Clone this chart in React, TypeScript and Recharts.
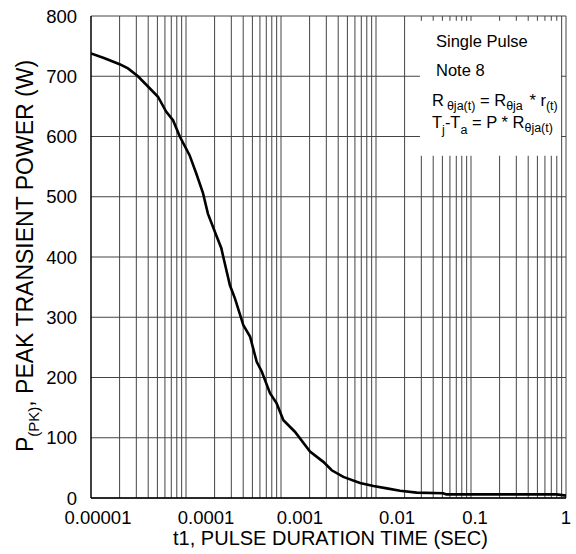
import React from 'react';
import {
  LineChart,
  Line,
  XAxis,
  YAxis,
  CartesianGrid,
  ReferenceLine,
  Customized,
  Label,
} from 'recharts';

// ---- data ----
const pulseTimes = [
  1.0e-5, 1.39e-5, 2.0e-5, 2.45e-5, 3.12e-5, 3.98e-5, 5.07e-5, 6.2e-5, 7.3e-5, 8.6e-5,
  1.09e-4, 1.28e-4, 1.51e-4, 1.7e-4, 2.08e-4, 2.35e-4, 2.47e-4, 2.9e-4, 3.28e-4, 4.01e-4,
  4.72e-4, 5.55e-4, 6.27e-4, 7.66e-4, 9.0e-4, 1.06e-3, 1.4e-3, 2.02e-3, 2.79e-3, 3.42e-3,
  4.53e-3, 6.79e-3, 9.4e-3, 1.3e-2, 1.79e-2, 2.68e-2, 5.1e-2, 5.5e-2, 0.8, 1.0,
];
const peakPower = [
  738, 730, 720, 713, 700, 683, 666, 641, 627, 600,
  569, 539, 506, 472, 436, 415, 400, 353, 331, 287,
  268, 226, 210, 174, 157, 129, 110, 77, 60, 46,
  35, 25, 20, 16, 12, 9, 8, 6, 6, 4,
];

const xTickValues = [0.00001, 0.0001, 0.001, 0.01, 0.1, 1];
const xTickLabels = ['0.00001', '0.0001', '0.001', '0.01', '0.1', '1'];
const yTickValues = [0, 100, 200, 300, 400, 500, 600, 700, 800];

// vertical grid values (1..9 per decade)
const xGridValues = [
  2e-5, 3e-5, 4e-5, 5e-5, 6e-5, 7e-5, 8e-5, 9e-5, 1e-4,
  2e-4, 3e-4, 4e-4, 5e-4, 6e-4, 7e-4, 8e-4, 9e-4, 1e-3,
  2e-3, 3e-3, 4e-3, 5e-3, 6e-3, 7e-3, 8e-3, 9e-3, 1e-2,
  2e-2, 3e-2, 4e-2, 5e-2, 6e-2, 7e-2, 8e-2, 9e-2, 1e-1,
  2e-1, 3e-1, 4e-1, 5e-1, 6e-1, 7e-1, 8e-1, 9e-1, 1,
];

// note box extent, in data units (x: time, y: power)
const noteBoxT = [0.029, 0.886];
const noteBoxP = [568, 792];

const chartData = pulseTimes.map((t, i) => ({ t, p: peakPower[i] }));

// ---- styles ----
const FONT = '"Liberation Sans", Arial, sans-serif';
const GRID = '#444444';
const xLabelShift = [7, 20, 19, 21, 4, 0];

const XTick = (props: any) => {
  const { x, y, index } = props;
  return (
    <text
      x={x + (xLabelShift[index] || 0)}
      y={y}
      dy="0.71em"
      textAnchor="middle"
      fontFamily={FONT}
      fontSize={18.5}
      fill="#000"
    >
      {xTickLabels[index]}
    </text>
  );
};

const YTitle = (props: any) => {
  const { viewBox } = props;
  const cy = viewBox.y + viewBox.height / 2 - 1;
  const x = 33;
  return (
    <text
      x={x}
      y={cy}
      transform={`rotate(-90 ${x} ${cy})`}
      textAnchor="middle"
      fontFamily={FONT}
      fontSize={23}
      fill="#000"
    >
      <tspan>P</tspan>
      <tspan fontSize={15} dy={6}>(PK)</tspan>
      <tspan dy={-6}>, PEAK TRANSIENT POWER (W)</tspan>
    </text>
  );
};

const XTitle = (props: any) => {
  const { viewBox } = props;
  const cx = viewBox.x + viewBox.width / 2 + 2;
  return (
    <text x={cx} y={545} textAnchor="middle" fontFamily={FONT} fontSize={20} fill="#000">
      t1, PULSE DURATION TIME (SEC)
    </text>
  );
};

const NoteBox = () => (
  <g fontFamily={FONT} fill="#000">
    <rect x={420} y={21} width={141} height={135} fill="#fff" stroke="none" />
    <text x={436} y={47} fontSize={16.5}>Single Pulse</text>
    <text x={436} y={76} fontSize={16.5}>Note 8</text>
    <text x={432} y={106} fontSize={16.5}>
      <tspan>R</tspan>
      <tspan fontSize={12.5} dx={3} dy={4}>θja(t)</tspan>
      <tspan dy={-4}> = R</tspan>
      <tspan fontSize={12.5} dy={4}>θja</tspan>
      <tspan dy={-4} dx={2}> * r</tspan>
      <tspan fontSize={12.5} dy={4}>(t)</tspan>
    </text>
    <text x={432} y={128} fontSize={16.5}>
      <tspan>T</tspan>
      <tspan fontSize={12.5} dy={6}>j</tspan>
      <tspan dy={-6}>-T</tspan>
      <tspan fontSize={12.5} dy={6}>a</tspan>
      <tspan dy={-6}> = P * R</tspan>
      <tspan fontSize={12.5} dy={4}>θja(t)</tspan>
    </text>
  </g>
);

const insideBox = (v: number) => v > noteBoxT[0] && v < noteBoxT[1];

export default function App() {
  return (
    <div style={{ position: 'absolute', left: 0, top: 0, width: 576, height: 554, background: '#fff' }}>
      <LineChart
        width={576}
        height={554}
        data={chartData}
        margin={{ top: 16, right: 10, bottom: 0, left: 0 }}
      >
        <CartesianGrid vertical={false} stroke={GRID} strokeWidth={1} />
        {xGridValues.map((v) =>
          insideBox(v) ? (
            <React.Fragment key={v}>
              <ReferenceLine
                segment={[{ x: v, y: 0 }, { x: v, y: noteBoxP[0] }]}
                stroke={GRID}
                strokeWidth={1}
                ifOverflow="visible"
              />
              <ReferenceLine
                segment={[{ x: v, y: noteBoxP[1] }, { x: v, y: 800 }]}
                stroke={GRID}
                strokeWidth={1}
                ifOverflow="visible"
              />
            </React.Fragment>
          ) : (
            <ReferenceLine key={v} x={v} stroke={GRID} strokeWidth={1} ifOverflow="visible" />
          )
        )}
        <XAxis
          dataKey="t"
          type="number"
          scale="log"
          domain={[0.00001, 1]}
          ticks={xTickValues}
          allowDataOverflow
          interval={0}
          height={56}
          tickLine={false}
          tickSize={6}
          tickMargin={7}
          axisLine={{ stroke: '#000', strokeWidth: 1.5 }}
          tick={<XTick />}
        >
          <Label content={<XTitle />} />
        </XAxis>
        <YAxis
          type="number"
          domain={[0, 800]}
          ticks={yTickValues}
          interval={0}
          width={91}
          tickLine={false}
          tickSize={6}
          tickMargin={8}
          axisLine={{ stroke: '#000', strokeWidth: 1.5 }}
          tick={{ fill: '#000', fontSize: 18.5, fontFamily: FONT }}
        >
          <Label content={<YTitle />} />
        </YAxis>
        <Line
          type="linear"
          dataKey="p"
          stroke="#000"
          strokeWidth={2.6}
          dot={false}
          isAnimationActive={false}
        />
        <Customized component={<NoteBox />} />
      </LineChart>
    </div>
  );
}
